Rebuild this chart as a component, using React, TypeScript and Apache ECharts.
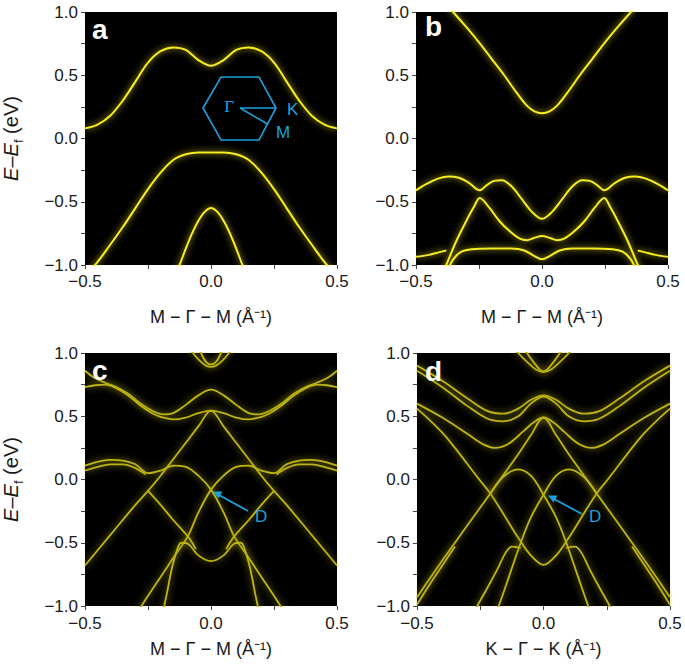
import React, { useEffect, useRef } from "react";
import * as echarts from "echarts";

// ---------- data ----------
// Each "half" curve covers x <= 0; bands are symmetric about Γ (x = 0)
const xTickValues = [-0.5, 0, 0.5];
const yTickValues = [-1, -0.5, 0, 0.5, 1];

// panel a
const aUpperHalf = [[-0.5, 0.08], [-0.45, 0.11], [-0.4, 0.18], [-0.35, 0.3], [-0.3, 0.45], [-0.25, 0.6], [-0.2, 0.69], [-0.15, 0.72], [-0.1, 0.7], [-0.05, 0.62], [0, 0.575]];
const aMiddleHalf = [[-0.5, -1.08], [-0.46, -1.0], [-0.4, -0.84], [-0.35, -0.7], [-0.3, -0.55], [-0.25, -0.4], [-0.2, -0.27], [-0.15, -0.17], [-0.1, -0.125], [-0.05, -0.11], [0, -0.11]];
const aLowerHalf = [[-0.14, -1.06], [-0.125, -1.0], [-0.1, -0.87], [-0.075, -0.75], [-0.05, -0.65], [-0.025, -0.58], [0, -0.55]];

// panel b
const bUpperHalf = [[-0.4, 1.1], [-0.353, 1.0], [-0.3, 0.88], [-0.25, 0.76], [-0.2, 0.63], [-0.15, 0.5], [-0.1, 0.36], [-0.06, 0.26], [-0.03, 0.215], [0, 0.2]];
const bWHalf = [[-0.5, -0.41], [-0.46, -0.36], [-0.41, -0.315], [-0.37, -0.3], [-0.33, -0.31], [-0.29, -0.35], [-0.247, -0.41], [-0.22, -0.37], [-0.19, -0.335], [-0.16, -0.33], [-0.12, -0.38], [-0.08, -0.48], [-0.04, -0.58], [0, -0.635]];
const bPeakHalf = [[-0.39, -1.04], [-0.38, -1.0], [-0.34, -0.81], [-0.3, -0.65], [-0.27, -0.54], [-0.247, -0.47], [-0.21, -0.545], [-0.17, -0.65], [-0.13, -0.73], [-0.09, -0.79], [-0.06, -0.805], [-0.03, -0.785], [0, -0.77]];
const bEdgeLowHalf = [[-0.5, -0.935], [-0.45, -0.92], [-0.41, -0.9], [-0.38, -0.885]];
const bFlatLowHalf = [[-0.372, -1.03], [-0.35, -0.95], [-0.32, -0.895], [-0.28, -0.875], [-0.2, -0.87], [-0.12, -0.87], [-0.07, -0.885], [-0.03, -0.93], [0, -0.955]];

// panel c
const cTopOuterHalf = [[-0.1, 1.08], [-0.072, 1.0], [-0.045, 0.94], [-0.02, 0.9], [0, 0.89]];
const cTopInnerHalf = [[-0.055, 1.06], [-0.04, 1.0], [-0.02, 0.93], [0, 0.91]];
const cPairUpperHalf = [[-0.5, 0.86], [-0.46, 0.8], [-0.42, 0.765], [-0.38, 0.735], [-0.33, 0.68], [-0.28, 0.6], [-0.23, 0.54], [-0.19, 0.515], [-0.15, 0.525], [-0.1, 0.59], [-0.05, 0.665], [0, 0.71]];
const cPairLowerHalf = [[-0.5, 0.73], [-0.46, 0.745], [-0.42, 0.75], [-0.38, 0.725], [-0.33, 0.665], [-0.28, 0.585], [-0.23, 0.52], [-0.19, 0.49], [-0.15, 0.475], [-0.1, 0.49], [-0.05, 0.525], [0, 0.545]];
const cLambdaHalf = [[-0.5, -0.68], [-0.4, -0.44], [-0.3, -0.2], [-0.25, -0.09], [-0.2, 0.03], [-0.15, 0.16], [-0.1, 0.29], [-0.05, 0.42], [0, 0.545]];
const cFlatHalf = [[-0.5, 0.07], [-0.45, 0.1], [-0.4, 0.12], [-0.35, 0.12], [-0.3, 0.09], [-0.26, 0.04]];
const cArchLeft = [[-0.5, 0.11], [-0.45, 0.14], [-0.4, 0.155], [-0.35, 0.15], [-0.3, 0.12], [-0.25, 0.05], [-0.2, 0.07], [-0.15, 0.11], [-0.1, 0.1], [-0.05, 0.03], [0, -0.08], [0.05, -0.26], [0.092, -0.45], [0.15, -0.62], [0.2, -0.77], [0.276, -1.0], [0.3, -1.08]];
const cKinkHalf = [[-0.25, -0.09], [-0.2, -0.2], [-0.15, -0.32], [-0.092, -0.45], [-0.06, -0.55]];
const cLowerHalf = [[-0.19, -1.04], [-0.175, -0.9], [-0.155, -0.7], [-0.135, -0.56], [-0.118, -0.5], [-0.09, -0.51], [-0.05, -0.6], [0, -0.645]];

// panel d
const dTopOuterHalf = [[-0.13, 1.08], [-0.1, 1.0], [-0.06, 0.92], [-0.03, 0.87], [0, 0.85]];
const dTopInnerHalf = [[-0.08, 1.06], [-0.065, 1.0], [-0.04, 0.93], [-0.015, 0.87], [0, 0.855]];
const dUpper1Half = [[-0.5, 0.9], [-0.4, 0.78], [-0.3, 0.64], [-0.22, 0.54], [-0.16, 0.52], [-0.1, 0.56], [-0.05, 0.63], [0, 0.665]];
const dUpper2Half = [[-0.5, 0.86], [-0.4, 0.73], [-0.3, 0.58], [-0.22, 0.48], [-0.16, 0.46], [-0.1, 0.5], [-0.05, 0.6], [0, 0.655]];
const dMidHalf = [[-0.5, 0.6], [-0.4, 0.49], [-0.3, 0.36], [-0.24, 0.28], [-0.19, 0.25], [-0.14, 0.28], [-0.08, 0.38], [-0.04, 0.45], [0, 0.49]];
const dVHalf = [[-0.5, 0.56], [-0.45, 0.47], [-0.4, 0.37], [-0.35, 0.25], [-0.3, 0.12], [-0.25, -0.01], [-0.21, -0.11], [-0.15, -0.3], [-0.1, -0.46], [-0.05, -0.6], [0, -0.675]];
const dLambdaHalf = [[-0.5, -0.93], [-0.4, -0.64], [-0.3, -0.36], [-0.21, -0.11], [-0.15, 0.06], [-0.1, 0.2], [-0.05, 0.35], [0, 0.49]];
const dLambda2Half = [[-0.5, -0.99], [-0.45, -0.83], [-0.4, -0.68], [-0.35, -0.53]];
const dArchLeft = [[-0.21, -0.11], [-0.16, 0.02], [-0.1, 0.08], [-0.05, 0.03], [0, -0.12], [0.05, -0.3], [0.09, -0.5], [0.13, -0.73], [0.177, -1.0], [0.19, -1.06]];
const dLowerHalf = [[-0.27, -1.03], [-0.262, -1.0], [-0.22, -0.85], [-0.18, -0.7], [-0.15, -0.58], [-0.125, -0.53], [-0.09, -0.54]];

// ---------- helpers ----------
function mirror(half: number[][]): number[][] {
  const right = half.filter((p) => p[0] < 0).map((p) => [-p[0], p[1]]).reverse();
  return [...half, ...right];
}
function flipX(pts: number[][]): number[][] {
  return pts.map((p) => [-p[0], p[1]]);
}
const fmt = (v: number) => (v === 0 ? "0.0" : v.toFixed(1).replace("-", "\u2212"));

const FONT = "Liberation Sans, Arial, Helvetica, sans-serif";
const BLUE = "#1da1dc";
const INK = "#1a1a1a";

export default function App() {
  const ref = useRef<HTMLDivElement>(null);

  useEffect(() => {
    if (!ref.current) return;
    const chart = echarts.init(ref.current, undefined, { renderer: "svg" });

    const grids = [
      { left: 83, top: 12, width: 254, height: 253 },
      { left: 416, top: 12, width: 252, height: 253 },
      { left: 83, top: 353, width: 254, height: 253 },
      { left: 417, top: 353, width: 253, height: 253 },
    ];
    const xNames = [
      "M \u2212 \u0393 \u2212 M (\u00c5\u207b\u00b9)",
      "M \u2212 \u0393 \u2212 M (\u00c5\u207b\u00b9)",
      "M \u2212 \u0393 \u2212 M (\u00c5\u207b\u00b9)",
      "K \u2212 \u0393 \u2212 K (\u00c5\u207b\u00b9)",
    ];
    const xGaps = [43, 43, 34, 34];
    const xMargins = [8, 8, 9, 9];

    const band = (data: number[][], gi: number) => {
      const bright = gi < 2;
      return {
        type: "line",
        xAxisIndex: gi,
        yAxisIndex: gi,
        data,
        showSymbol: false,
        symbol: "none",
        smooth: 0.35,
        clip: true,
        silent: true,
        lineStyle: bright
          ? { color: "#f6ee22", width: 2, shadowBlur: 6, shadowColor: "rgba(235,220,0,0.95)" }
          : { color: "#bdb514", width: 1.8, shadowBlur: 7, shadowColor: "rgba(165,155,0,0.95)" },
      };
    };

    const series: any[] = [
      band(mirror(aUpperHalf), 0),
      band(mirror(aMiddleHalf), 0),
      band(mirror(aLowerHalf), 0),

      band(mirror(bUpperHalf), 1),
      band(mirror(bWHalf), 1),
      band(mirror(bPeakHalf), 1),
      band(bEdgeLowHalf, 1),
      band(flipX(bEdgeLowHalf), 1),
      band(mirror(bFlatLowHalf), 1),

      band(mirror(cTopOuterHalf), 2),
      band(mirror(cTopInnerHalf), 2),
      band(mirror(cPairUpperHalf), 2),
      band(mirror(cPairLowerHalf), 2),
      band(mirror(cLambdaHalf), 2),
      band(cFlatHalf, 2),
      band(flipX(cFlatHalf), 2),
      band(cArchLeft, 2),
      band(flipX(cArchLeft), 2),
      band(cKinkHalf, 2),
      band(flipX(cKinkHalf), 2),
      band(mirror(cLowerHalf), 2),

      band(mirror(dTopOuterHalf), 3),
      band(mirror(dTopInnerHalf), 3),
      band(mirror(dUpper1Half), 3),
      band(mirror(dUpper2Half), 3),
      band(mirror(dMidHalf), 3),
      band(mirror(dVHalf), 3),
      band(mirror(dLambdaHalf), 3),
      band(dLambda2Half, 3),
      band(flipX(dLambda2Half), 3),
      band(dArchLeft, 3),
      band(flipX(dArchLeft), 3),
      band(dLowerHalf, 3),
      band(flipX(dLowerHalf), 3),
    ];

    const yName = "{i|E}{n|\u2013}{i|E}{s|f}{n| (eV)}";
    const tickStyle = { color: "#444", width: 1 };

    const option: any = {
      animation: false,
      backgroundColor: "#ffffff",
      grid: grids.map((g) => ({ ...g, show: true, backgroundColor: "#000000", borderWidth: 0 })),
      xAxis: grids.map((_, i) => ({
        type: "value",
        gridIndex: i,
        min: -0.5,
        max: 0.5,
        interval: 0.5,
        position: "bottom",
        name: xNames[i],
        nameLocation: "middle",
        nameGap: xGaps[i],
        nameTextStyle: { fontSize: 18, color: INK, fontFamily: FONT },
        axisLine: { show: false, onZero: false },
        axisTick: { show: true, length: 4, lineStyle: tickStyle },
        minorTick: { show: true, splitNumber: 2, length: 4, lineStyle: tickStyle },
        splitLine: { show: false },
        minorSplitLine: { show: false },
        axisLabel: { formatter: fmt, fontSize: 17, color: INK, fontFamily: FONT, margin: xMargins[i] },
      })),
      yAxis: grids.map((_, i) => ({
        type: "value",
        gridIndex: i,
        min: -1,
        max: 1,
        interval: 0.5,
        position: "left",
        name: i % 2 === 0 ? yName : "",
        nameLocation: "middle",
        nameRotate: 90,
        nameGap: 60,
        nameTextStyle: {
          fontSize: 20,
          color: INK,
          fontFamily: FONT,
          rich: {
            i: { fontSize: 20, fontStyle: "italic", fontFamily: FONT, color: INK, lineHeight: 28, verticalAlign: "middle" },
            n: { fontSize: 20, fontFamily: FONT, color: INK, lineHeight: 28, verticalAlign: "middle" },
            s: { fontSize: 13, fontFamily: FONT, color: INK, lineHeight: 18, verticalAlign: "bottom" },
          },
        },
        axisLine: { show: false, onZero: false },
        axisTick: { show: true, length: 4, lineStyle: tickStyle },
        minorTick: { show: true, splitNumber: 2, length: 4, lineStyle: tickStyle },
        splitLine: { show: false },
        minorSplitLine: { show: false },
        axisLabel: { formatter: fmt, fontSize: 17, color: INK, fontFamily: FONT, margin: 7 },
      })),
      series,
      graphic: [
        // panel letters
        ...[
          ["a", 92, 29],
          ["b", 425, 26],
          ["c", 92, 370],
          ["d", 425, 371],
        ].map(([t, x, y]) => ({
          type: "text",
          x: x as number,
          y: y as number,
          z: 10,
          style: { text: t as string, fill: "#ffffff", font: `bold 28px ${FONT}`, verticalAlign: "middle", align: "left" },
        })),
        // Brillouin-zone hexagon inset in panel a
        {
          type: "polygon",
          z: 10,
          shape: { points: [[203, 108], [221, 77], [259, 77], [276, 108], [259, 140], [221, 140]] },
          style: { fill: "none", stroke: BLUE, lineWidth: 1.6 },
        },
        { type: "line", z: 10, shape: { x1: 240, y1: 108, x2: 276, y2: 108 }, style: { stroke: BLUE, lineWidth: 1.6 } },
        { type: "line", z: 10, shape: { x1: 240, y1: 108, x2: 267.5, y2: 124 }, style: { stroke: BLUE, lineWidth: 1.6 } },
        { type: "text", z: 10, x: 234, y: 106, style: { text: "\u0393", fill: BLUE, font: `17px "Liberation Serif", serif`, align: "right", verticalAlign: "middle" } },
        { type: "text", z: 10, x: 287, y: 109, style: { text: "K", fill: BLUE, font: `17px ${FONT}`, align: "left", verticalAlign: "middle" } },
        { type: "text", z: 10, x: 276, y: 132, style: { text: "M", fill: BLUE, font: `17px ${FONT}`, align: "left", verticalAlign: "middle" } },
        // D arrows
        { type: "line", z: 10, shape: { x1: 248, y1: 511, x2: 219, y2: 495 }, style: { stroke: BLUE, lineWidth: 1.8 } },
        { type: "polygon", z: 10, shape: { points: [[213, 491.5], [222.5, 491.5], [218.5, 498.5]] }, style: { fill: BLUE } },
        { type: "text", z: 10, x: 255, y: 516, style: { text: "D", fill: BLUE, font: `17px ${FONT}`, align: "left", verticalAlign: "middle" } },
        { type: "line", z: 10, shape: { x1: 582, y1: 514, x2: 554, y2: 499 }, style: { stroke: BLUE, lineWidth: 1.8 } },
        { type: "polygon", z: 10, shape: { points: [[548, 495.5], [557.5, 495.5], [553.5, 502.5]] }, style: { fill: BLUE } },
        { type: "text", z: 10, x: 589, y: 516, style: { text: "D", fill: BLUE, font: `17px ${FONT}`, align: "left", verticalAlign: "middle" } },
      ],
    };

    chart.setOption(option);
    return () => chart.dispose();
  }, []);

  return <div ref={ref} style={{ position: "fixed", left: 0, top: 0, width: 685, height: 666, background: "#fff" }} />;
}
